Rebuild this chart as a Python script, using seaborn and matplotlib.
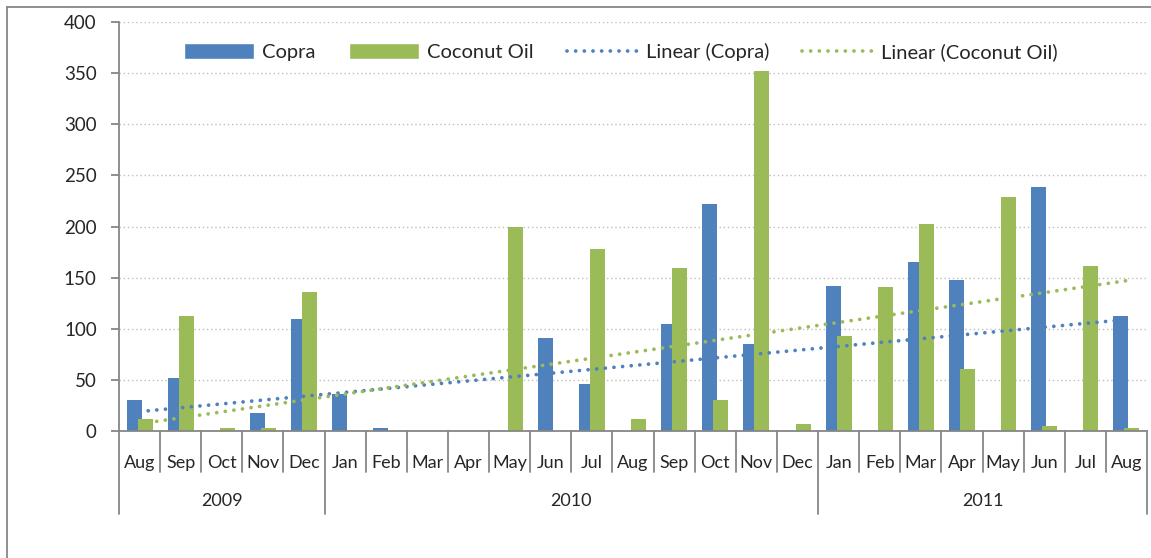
import numpy as np
import pandas as pd
import matplotlib.pyplot as plt
import matplotlib.transforms as mtransforms
from matplotlib.patches import Patch
from matplotlib.lines import Line2D
import seaborn as sns

# monthly values, Aug 2009 .. Aug 2011
months = ["Aug", "Sep", "Oct", "Nov", "Dec",
          "Jan", "Feb", "Mar", "Apr", "May", "Jun", "Jul", "Aug", "Sep", "Oct", "Nov", "Dec",
          "Jan", "Feb", "Mar", "Apr", "May", "Jun", "Jul", "Aug"]
year_labels = ["2009", "2010", "2011"]
year_counts = [5, 12, 8]
copra = [30, 52, 0, 18, 110,
         36, 3, 0, 0, 0, 91, 46, 0, 105, 222, 85, 0,
         142, 0, 165, 148, 0, 239, 0, 112]
coconut_oil = [12, 112, 3, 3, 136,
               0, 0, 0, 0, 200, 0, 178, 12, 159, 30, 352, 7,
               93, 141, 202, 61, 229, 5, 161, 3]
# linear trend values at first and last month
trend_idx = [0, 24]
copra_trend = [19, 109]
coconut_oil_trend = [7, 147]

BLUE = "#4F81BD"
GREEN = "#9BBB59"
GREY = "#868686"

years = [y for y, n in zip(year_labels, year_counts) for _ in range(n)]
period = [f"{y}-{m}" for y, m in zip(years, months)]
df = pd.DataFrame({"Period": period, "Copra": copra, "Coconut Oil": coconut_oil})
long = df.melt(id_vars="Period", var_name="Series", value_name="Value")

sns.set_theme(style="white")
plt.rcParams["font.family"] = ["Lato", "DejaVu Sans"]

fig = plt.figure(figsize=(11.51, 5.58), dpi=100)
ax = fig.add_axes([119 / 1151, 127 / 558, (1147 - 119) / 1151, 409 / 558])

sns.barplot(data=long, x="Period", y="Value", hue="Series", order=period,
            hue_order=["Copra", "Coconut Oil"], palette=[BLUE, GREEN],
            width=0.54, saturation=1, linewidth=0, errorbar=None,
            legend=False, ax=ax)
# excel style: bars a bit wider so they overlap
for p in ax.patches:
    c = p.get_x() + p.get_width() / 2
    p.set_width(0.365)
    p.set_x(c - 0.1825)

dots = (0, (0.01, 2.3))
sns.lineplot(x=trend_idx, y=copra_trend, color=BLUE, lw=2.7, ls=dots,
             dash_capstyle="round", ax=ax)
sns.lineplot(x=trend_idx, y=coconut_oil_trend, color=GREEN, lw=2.7, ls=dots,
             dash_capstyle="round", ax=ax)

ax.set_xlim(-0.5, len(period) - 0.5)
ax.set_ylim(0, 400)
ax.set_yticks(range(0, 401, 50))
ax.set_xticks(range(len(period)), months)
ax.set_xlabel("")
ax.set_ylabel("")
ax.yaxis.grid(True, color="#BFBFBF", ls=(0, (1, 2)), lw=1)
ax.set_axisbelow(True)
for s in ["top", "right"]:
    ax.spines[s].set_visible(False)
for s in ["left", "bottom"]:
    ax.spines[s].set_color(GREY)
    ax.spines[s].set_linewidth(1.3)
ax.tick_params(axis="y", length=6, width=1.3, color=GREY, labelsize=13.5, pad=10, left=True)
ax.tick_params(axis="x", length=0, labelsize=13, pad=17)

# category separators under the axis
trans = mtransforms.blended_transform_factory(ax.transData, ax.transAxes)
bounds = np.cumsum([0] + year_counts) - 0.5
for i in range(len(period) + 1):
    x = i - 0.5
    low = -0.203 if x in bounds else -0.1
    ax.plot([x, x], [0, low], transform=trans, color=GREY, lw=1.3, clip_on=False)
for lab, a, b in zip(year_labels, bounds[:-1], bounds[1:]):
    ax.text((a + b) / 2, -0.172, lab, transform=trans, ha="center", va="center", fontsize=13)

handles = [Patch(facecolor=BLUE, label="Copra"),
           Patch(facecolor=GREEN, label="Coconut Oil"),
           Line2D([], [], color=BLUE, lw=2.7, ls=dots, dash_capstyle="round", label="Linear (Copra)"),
           Line2D([], [], color=GREEN, lw=2.7, ls=dots, dash_capstyle="round", label="Linear (Coconut Oil)")]
ax.legend(handles=handles, loc="center", bbox_to_anchor=(0.488, 0.927), ncol=4, frameon=False,
          fontsize=14.5, handlelength=3.5, handleheight=0.8, handletextpad=0.4, columnspacing=1.65)

# outer chart border
fig.add_artist(Line2D([7 / 1151, 1], [1 - 7 / 558, 1 - 7 / 558], transform=fig.transFigure, color=GREY, lw=1.3))
fig.add_artist(Line2D([7 / 1151, 7 / 1151], [0, 1 - 7 / 558], transform=fig.transFigure, color=GREY, lw=1.3))

fig.savefig("out.png", dpi=100)
